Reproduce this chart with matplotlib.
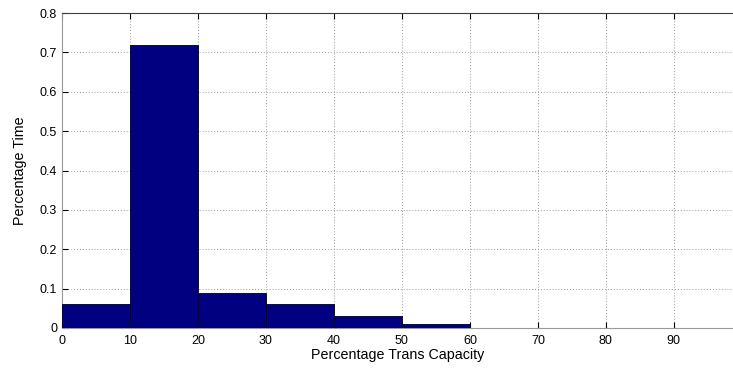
import numpy as np
import matplotlib
matplotlib.use("Agg")
import matplotlib.pyplot as plt

plt.rcParams["font.family"] = ["Liberation Sans", "DejaVu Sans"]

bin_edges = [0, 10, 20, 30, 40, 50, 60, 70, 80, 90]
pct_time = [0.06, 0.72, 0.09, 0.06, 0.03, 0.01, 0.001, 0.001, 0.0, 0.0]
x_ticks = [0, 10, 20, 30, 40, 50, 60, 70, 80, 90]
y_ticks = [0, 0.1, 0.2, 0.3, 0.4, 0.5, 0.6, 0.7, 0.8]
y_labels = ["0", "0.1", "0.2", "0.3", "0.4", "0.5", "0.6", "0.7", "0.8"]


def plot_hist():

    fig = plt.figure(figsize=(7.33, 3.68), dpi=100)
    ax = fig.add_axes([62 / 733, 40 / 368, 1 - 62 / 733, 315 / 368])

    ax.bar(bin_edges, pct_time, width=10, align="edge",
           color="#000080", edgecolor="black", linewidth=0.6, zorder=3)

    ax.set_xlim(0, 98.7)
    ax.set_ylim(0, 0.8)
    ax.set_xticks(x_ticks)
    ax.set_yticks(y_ticks)
    ax.set_yticklabels(y_labels)

    ax.grid(True, linestyle=(0, (1, 2)), color="#9a9a9a", linewidth=0.7, zorder=0)
    ax.tick_params(direction="in", length=4, labelsize=9, colors="black",
                   top=True)
    ax.tick_params(axis="x", pad=5)

    for side in ["left", "bottom"]:
        ax.spines[side].set_color("#999999")
    ax.spines["top"].set_color("#404040")
    ax.spines["right"].set_visible(False)

    ax.set_xlabel("Percentage Trans Capacity", fontsize=10.3, labelpad=1)
    ax.set_ylabel("Percentage Time", fontsize=10.3, labelpad=9)

    fig.savefig("out.png", dpi=100)
    plt.close(fig)


if __name__ == "__main__":
    plot_hist()
